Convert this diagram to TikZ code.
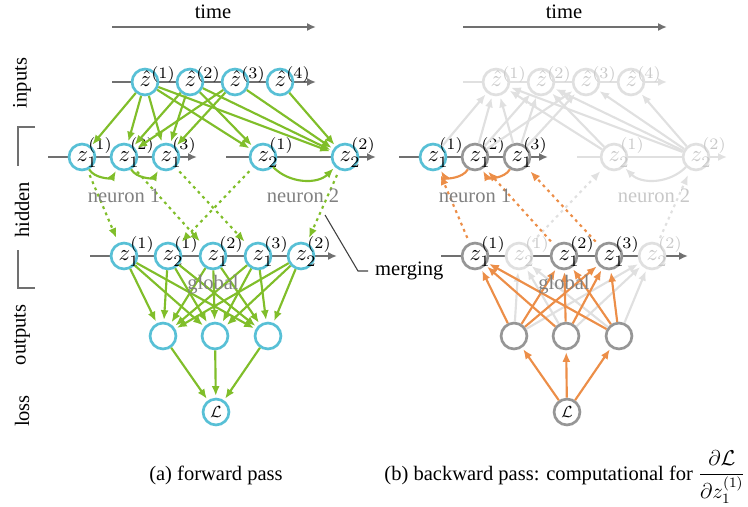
\documentclass[tikz,border=0pt]{standalone}
\usepackage{fontspec}
\setmainfont{Liberation Serif}
\usetikzlibrary{arrows.meta}

\definecolor{spkcyan}{RGB}{88,192,214}
\definecolor{fwdgreen}{RGB}{128,190,42}
\definecolor{bwdorange}{RGB}{236,142,72}
\definecolor{axisgray}{RGB}{112,112,112}
\definecolor{nodegray}{RGB}{150,150,150}
\definecolor{fadegray}{RGB}{224,224,224}
\definecolor{fadetext}{RGB}{200,200,200}
\definecolor{labelgray}{RGB}{128,128,128}

% label of a spike: letter centred in the circle, indices may stick out
\newcommand{\spikelab}[1]{\makebox[0pt][l]{\fontsize{10}{12}\selectfont\kern-3pt\raisebox{-2.6pt}[0pt][0pt]{\scalebox{1.28}{$#1$}}}}
\newcommand{\zhat}[1]{\spikelab{\hat{z}^{(#1)}}}
\newcommand{\zsp}[2]{\spikelab{z_{#1}^{(#2)}}}

\tikzset{
  spike/.style={circle, draw=spkcyan, fill=white, line width=1.5pt, minimum size=14.5pt, inner sep=0pt},
  spikegray/.style={spike, draw=nodegray},
  spikefade/.style={spike, draw=fadegray, text=fadetext},
  timeline/.style={draw=axisgray, line width=1.4pt, -{Latex[length=5pt,width=4.5pt]}},
  timefade/.style={timeline, draw=fadegray},
  fwd/.style={draw=fwdgreen, line width=1.2pt, shorten >=1pt, -{Latex[length=5.5pt,width=4.5pt]}},
  fwddot/.style={fwd, dash pattern=on 1.6pt off 2.2pt, shorten <=3pt, shorten >=3pt},
  bwd/.style={fwd, draw=bwdorange},
  bwddot/.style={fwddot, draw=bwdorange},
  fade/.style={fwd, draw=fadegray},
  fadedot/.style={fwddot, draw=fadegray},
  layerlab/.style={rotate=90},
  grouplab/.style={text=labelgray},
}

\begin{document}
\fontsize{11.5}{14}\selectfont
\begin{tikzpicture}[x=0.56pt, y=-0.56pt]
\useasboundingbox (0,0) rectangle (748,506);

% ---------------- (a) forward pass ----------------
\node (atime) at (213,12) {time};
\draw[timeline] (112,27) -- (316,27);
\draw[timeline] (112,82) -- (316,82);
\draw[timeline] (48,157) -- (197,157);
\draw[timeline] (226,157) -- (376,157);
\draw[timeline] (90,256) -- (337,256);

\node[spike] (ai1) at (145,82) {\zhat{1}};
\node[spike] (ai2) at (190,82) {\zhat{2}};
\node[spike] (ai3) at (235,82) {\zhat{3}};
\node[spike] (ai4) at (280,82) {\zhat{4}};

\node[spike] (ah11) at (82,157) {\zsp{1}{1}};
\node[spike] (ah12) at (124,157) {\zsp{1}{2}};
\node[spike] (ah13) at (166,157) {\zsp{1}{3}};
\node[spike] (ah21) at (263,157) {\zsp{2}{1}};
\node[spike] (ah22) at (345,157) {\zsp{2}{2}};

\node[spike] (am11) at (124,256) {\zsp{1}{1}};
\node[spike] (am21) at (168,256) {\zsp{2}{1}};
\node[spike] (am12) at (213,256) {\zsp{1}{2}};
\node[spike] (am13) at (258,256) {\zsp{1}{3}};
\node[spike] (am22) at (301,256) {\zsp{2}{2}};

\node[spike] (ao1) at (163,336) {};
\node[spike] (ao2) at (215,336) {};
\node[spike] (ao3) at (268,336) {};
\node[spike] (aL) at (216,412) {\small$\mathcal{L}$};

\foreach \h in {11,12,13,21,22} \draw[fwd] (ai1) -- (ah\h);
\foreach \h in {12,13,21,22} \draw[fwd] (ai2) -- (ah\h);
\foreach \h in {12,13,22} \draw[fwd] (ai3) -- (ah\h);
\draw[fwd] (ai4) -- (ah22);

\draw[fwd] (ah11) to[out=-60,in=-120] (ah12);
\draw[fwd] (ah12) to[out=-60,in=-120] (ah13);
\draw[fwd] (ah21) to[out=-45,in=-135] (ah22);

\foreach \h in {11,12,13,21,22} \draw[fwddot] (ah\h) -- (am\h);

\foreach \m in {11,21,12,13,22}
  \foreach \o in {1,2,3} \draw[fwd] (am\m) -- (ao\o);
\foreach \o in {1,2,3} \draw[fwd] (ao\o) -- (aL);

\node[grouplab] (aneu1) at (124,196) {neuron 1};
\node[grouplab] (aneu2) at (303,196) {neuron 2};
\node[grouplab] (aglob) at (213,285) {global};

% layer names
\node[layerlab] (lbin) at (22,83) {inputs};
\node[layerlab] (lbhid) at (22,210) {hidden};
\node[layerlab] (lbout) at (22,335) {outputs};
\node[layerlab] (lbloss) at (22,411) {loss};
\draw[axisgray, line width=0.6pt] (35,127) -- (18,127) -- (18,166);
\draw[axisgray, line width=0.6pt] (18,250) -- (18,288) -- (35,288);

\node[anchor=west] (lbmerge) at (368,271) {merging};
\coordinate (mgtop) at (325,215);
\coordinate (mgbend) at (358,271);
\draw[black!75, line width=0.6pt] (mgtop) -- (mgbend) -- (lbmerge.west);

\node[anchor=base] (capa) at (216,480) {(a) forward pass};

% ---------------- (b) backward pass ----------------
\node (btime) at (564,12) {time};
\draw[timeline] (463,27) -- (667,27);
\draw[timefade] (463,82) -- (667,82);
\draw[timeline] (399,157) -- (548,157);
\draw[timefade] (577,157) -- (727,157);
\draw[timeline] (441,256) -- (688,256);

\node[spikefade] (bi1) at (496,82) {\zhat{1}};
\node[spikefade] (bi2) at (541,82) {\zhat{2}};
\node[spikefade] (bi3) at (586,82) {\zhat{3}};
\node[spikefade] (bi4) at (631,82) {\zhat{4}};

\node[spike] (bh11) at (433,157) {\zsp{1}{1}};
\node[spikegray] (bh12) at (475,157) {\zsp{1}{2}};
\node[spikegray] (bh13) at (517,157) {\zsp{1}{3}};
\node[spikefade] (bh21) at (614,157) {\zsp{2}{1}};
\node[spikefade] (bh22) at (696,157) {\zsp{2}{2}};

\node[spikegray] (bm11) at (475,256) {\zsp{1}{1}};
\node[spikefade] (bm21) at (519,256) {\zsp{2}{1}};
\node[spikegray] (bm12) at (564,256) {\zsp{1}{2}};
\node[spikegray] (bm13) at (609,256) {\zsp{1}{3}};
\node[spikefade] (bm22) at (652,256) {\zsp{2}{2}};

\node[spikegray] (bo1) at (514,336) {};
\node[spikegray] (bo2) at (566,336) {};
\node[spikegray] (bo3) at (619,336) {};
\node[spikegray] (bL) at (567,412) {\small$\mathcal{L}$};

\foreach \h in {11,12,13,21,22} \draw[fade] (bh\h) -- (bi1);
\foreach \h in {12,13,21,22} \draw[fade] (bh\h) -- (bi2);
\foreach \h in {12,13,22} \draw[fade] (bh\h) -- (bi3);
\draw[fade] (bh22) -- (bi4);
\draw[fade] (bh22) to[out=-135,in=-45] (bh21);
\foreach \h in {21,22} \draw[fadedot] (bm\h) -- (bh\h);
\foreach \m in {21,22}
  \foreach \o in {1,2,3} \draw[fade] (bo\o) -- (bm\m);

\draw[bwd] (bh12) to[out=-120,in=-60] (bh11);
\draw[bwd] (bh13) to[out=-120,in=-60] (bh12);
\foreach \h in {11,12,13} \draw[bwddot] (bm\h) -- (bh\h);
\foreach \m in {11,12,13}
  \foreach \o in {1,2,3} \draw[bwd] (bo\o) -- (bm\m);
\foreach \o in {1,2,3} \draw[bwd] (bL) -- (bo\o);

\node[grouplab] (bneu1) at (475,196) {neuron 1};
\node[text=fadetext] (bneu2) at (654,196) {neuron 2};
\node[grouplab] (bglob) at (564,285) {global};

\node[anchor=base] (capb) at (565,480) {(b) backward pass: computational for $\displaystyle\frac{\partial\mathcal{L}}{\partial z_1^{(1)}}$};
\end{tikzpicture}
\end{document}
